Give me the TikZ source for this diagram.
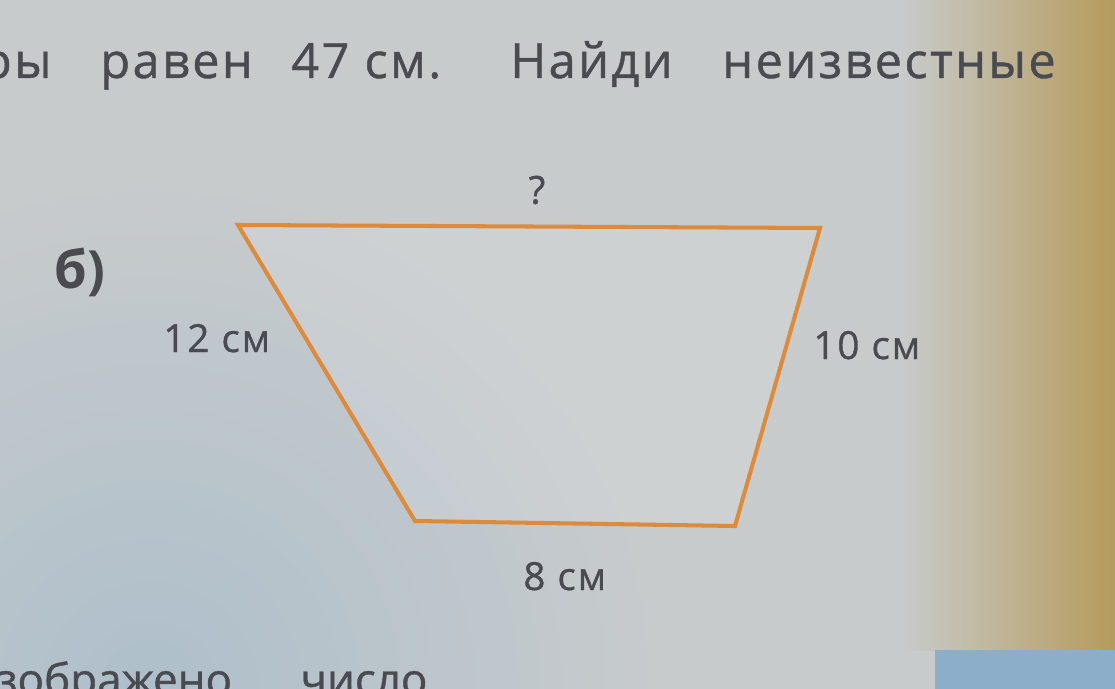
\documentclass[tikz,border=0pt]{standalone}
\usepackage{fontspec}
\setmainfont{Open Sans}
\newfontfamily\pagefont{Open Sans}[FakeBold=0.9, LetterSpace=5]
\newfontfamily\nearfont{Open Sans}[FakeBold=0.9]
\definecolor{paper}{HTML}{C8CBCC}
\definecolor{paperblue}{HTML}{AEBFCB}
\definecolor{tan}{HTML}{B59B5C}
\definecolor{edgeblue}{HTML}{8DAEC8}
\definecolor{ink}{HTML}{4A4B51}
\definecolor{rim}{HTML}{DC8A3C}
\tikzset{
  word/.style={text=ink, font=\pagefont\fontsize{27.7}{30}\selectfont, inner sep=0pt, anchor=base west},
  nearword/.style={word, font=\nearfont\fontsize{25}{28}\selectfont},
  len/.style={text=ink, font=\pagefont\fontsize{22}{26}\selectfont, inner sep=0pt, anchor=base west},
}
\begin{document}
\begin{tikzpicture}[x=0.02cm, y=-0.02cm]
      \useasboundingbox (0,0) rectangle (1115,689);
      \clip (0,0) rectangle (1115,689);
      % paper
      \fill[paper] (0,0) rectangle (1115,689);
      \shade[inner color=paperblue, outer color=paper] (150,689) circle (520);
      \shade[left color=paper, right color=tan] (900,0) rectangle (1115,650);
      \fill[edgeblue] (935,650) rectangle (1115,689);
      % text lines
      \node[word, anchor=base east] (w0) at (52,78) {ры};
      \node[word] (w1) at (100,78) {равен};
      \node[word] (w2) at (291,78) {47 см.};
      \node[word] (w3) at (510,78) {Найди};
      \node[word] (w4) at (722,78) {неизвестные};
      \node[nearword] (w5) at (-4,695) {зображено};
      \node[nearword] (w6) at (300,695) {число};
      % trapezoid
      \coordinate (0) at (238,225);
      \coordinate (1) at (820,228);
      \coordinate (2) at (735,526);
      \coordinate (3) at (415,521);
      \fill[white, opacity=0.12] (0) -- (1) -- (2) -- (3) -- cycle;
      \draw[rim, line width=2.3pt, line join=miter] (0) -- (1) -- (2) -- (3) -- cycle;
      % labels
      \node[len, anchor=center] (top) at (537,190) {?};
      \node[word, font=\fontsize{30}{32}\selectfont\bfseries] (b) at (54,288) {б)};
      \node[len] (left) at (163,352) {12 см};
      \node[len] (right) at (813,359) {10 см};
      \node[len] (bottom) at (523,590) {8 см};
    \end{tikzpicture}
\end{document}
